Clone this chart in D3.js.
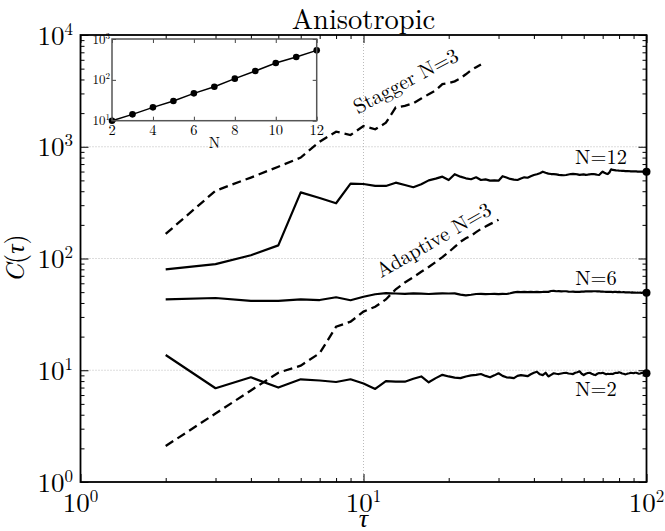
<!DOCTYPE html>
<html>
<head>
<meta charset="utf-8">
<script src="https://cdn.jsdelivr.net/npm/d3@7"></script>
<style>
  html, body { margin: 0; padding: 0; background: #fff; }
  svg { display: block; }
</style>
</head>
<body>
<svg id="chart" width="665" height="531"></svg>
<script>
// Lag values tau shared by the long solid runs
const tauGrid = [
  2, 3, 4, 5, 6, 7, 8, 9, 10, 11,
  12, 13, 14, 15, 16, 17, 18, 19, 20, 21,
  22, 23, 24, 25, 26, 27, 28, 29, 30, 31,
  32, 33, 34, 35, 36, 37, 38, 39, 40, 41,
  42, 43, 44, 45, 46, 47, 48, 49, 50, 51,
  52, 53, 54, 55, 56, 57, 58, 59, 60, 61,
  62, 63, 64, 65, 66, 67, 68, 69, 70, 71,
  72, 73, 74, 75, 76, 77, 78, 79, 80, 81,
  82, 83, 84, 85, 86, 87, 88, 89, 90, 91,
  92, 93, 94, 95, 96, 97, 98, 99, 100
];

// C(tau) for the anisotropic runs, N = 12, 6, 2
const n12Values = [
  80, 89, 107, 131, 391, 348, 312, 467, 464, 446,
  446, 477, 455, 434, 461, 500, 518, 540, 504, 568,
  540, 522, 512, 533, 504, 510, 497, 500, 497, 545,
  530, 515, 508, 504, 520, 533, 528, 545, 559, 568,
  580, 598, 585, 575, 570, 568, 566, 560, 558, 556,
  559, 565, 570, 572, 570, 566, 560, 563, 566, 560,
  563, 567, 570, 570, 566, 562, 559, 580, 598, 585,
  575, 570, 590, 628, 620, 618, 615, 613, 611, 610,
  608, 610, 606, 605, 607, 604, 603, 603, 603, 601,
  602, 600, 600, 598, 600, 599, 597, 598, 598
];
const n6Values = [
  43.1, 44.3, 41.7, 41.7, 43.1, 42.5, 45.0, 42.3, 45.5, 47.9,
  49.0, 48.6, 48.3, 48.8, 48.5, 48.1, 48.4, 48.8, 48.6, 48.8,
  47.5, 46.8, 47.4, 48.1, 48.3, 48.0, 48.1, 48.3, 48.0, 48.2,
  48.1, 48.9, 49.8, 50.2, 50.0, 50.3, 50.1, 50.2, 50.0, 50.3,
  50.1, 50.2, 50.4, 50.3, 51.2, 51.4, 50.9, 51.0, 50.8, 50.9,
  50.9, 50.6, 50.4, 50.5, 50.2, 50.4, 50.2, 50.5, 50.6, 50.8,
  50.7, 50.9, 50.8, 50.9, 50.9, 50.7, 50.9, 50.6, 50.5, 50.4,
  50.2, 50.3, 50.2, 50.3, 50.1, 50.2, 50.3, 50.1, 50.2, 50.0,
  49.9, 50.1, 49.8, 49.9, 49.7, 49.8, 49.6, 49.7, 49.5, 49.6,
  49.4, 49.5, 49.4, 49.5, 49.3, 49.5, 49.4, 49.3, 49.4
];
const n2Values = [
  13.7, 6.9, 8.65, 7.0, 8.3, 8.1, 7.85, 8.3, 7.6, 6.8,
  8.0, 7.9, 7.9, 8.4, 8.8, 7.8, 8.5, 9.1, 8.8, 8.6,
  8.5, 8.8, 9.0, 9.1, 9.25, 8.9, 8.65, 9.0, 9.4, 8.9,
  8.65, 8.6, 8.5, 8.9, 9.05, 8.95, 8.85, 9.2, 9.5, 9.7,
  9.2, 9.05, 9.5, 8.8, 9.1, 9.4, 9.3, 9.25, 9.35, 9.45,
  9.5, 9.35, 9.3, 9.25, 9.5, 9.6, 9.78, 9.3, 9.06, 9.3,
  9.45, 9.5, 9.3, 9.15, 9.06, 9.3, 9.45, 9.4, 9.5, 9.35,
  9.2, 9.3, 9.25, 9.3, 9.25, 9.4, 9.5, 9.45, 9.6, 9.5,
  9.35, 9.3, 9.2, 9.25, 9.35, 9.4, 9.5, 9.45, 9.4, 9.5,
  9.5, 9.4, 9.3, 9.35, 9.45, 9.5, 9.4, 9.35, 9.4
];

// Dashed comparison runs with N = 3
const staggerTau = [2, 3, 4, 5, 6, 7, 8, 9, 10, 11, 12, 13, 14, 15, 16, 17, 18, 19, 20, 21, 22, 23, 24, 25, 26];
const staggerValues = [166, 404, 530, 663, 800, 1110, 1365, 1274, 1530, 1432, 1640, 2250, 2320, 2450, 2700, 2950, 3200, 3640, 3720, 3850, 4100, 4450, 4850, 5150, 5450];
const adaptiveTau = [2, 3, 4, 5, 6, 7, 8, 9, 10, 11, 12, 13, 14, 15, 16, 17, 18, 19, 20, 21, 22, 23, 24, 25, 26, 27, 28, 29, 30];
const adaptiveValues = [2.1, 4.1, 6.6, 9.5, 11.0, 14.2, 24.5, 27.2, 33.5, 37, 43, 53, 61, 68, 76, 84, 93, 103, 114, 127, 141, 152, 160, 172, 184, 193, 203, 212, 222];

// Inset: growth of C with N
const insetN = [2, 3, 4, 5, 6, 7, 8, 9, 10, 11, 12];
const insetValues = [10, 14.3, 21.2, 30.3, 46.7, 68, 107, 164, 258, 362, 527];

// Tick positions and labels
const xMajor = [1, 10, 100];
const xMinor = [2, 3, 4, 5, 6, 7, 8, 9, 20, 30, 40, 50, 60, 70, 80, 90];
const yMajor = [1, 10, 100, 1000, 10000];
const yMinor = [2, 3, 4, 5, 6, 7, 8, 9, 20, 30, 40, 50, 60, 70, 80, 90,
                200, 300, 400, 500, 600, 700, 800, 900, 2000, 3000, 4000, 5000, 6000, 7000, 8000, 9000];
const xGrid = [10];
const yGrid = [10, 100, 1000];
const insetXTicks = [2, 4, 6, 8, 10, 12];
const insetYTicks = [10, 100, 1000];

const FONT = "Latin Modern Roman, Liberation Serif, serif";
const svg = d3.select("#chart");
const plot = { left: 80.5, right: 646.5, top: 35, bottom: 482 };

const x = d3.scaleLog().domain([1, 100]).range([plot.left, plot.right]);
const y = d3.scaleLog().domain([1, 10000]).range([plot.bottom, plot.top]);

function label(parent) {
  return parent.append("text").attr("font-family", FONT).attr("fill", "#000");
}

// dotted grid
svg.append("g").selectAll("line").data(yGrid).join("line")
  .attr("x1", plot.left).attr("x2", plot.right)
  .attr("y1", d => y(d)).attr("y2", d => y(d))
  .attr("stroke", "#aaa").attr("stroke-width", 0.8).attr("stroke-dasharray", "1,2");
svg.append("g").selectAll("line").data(xGrid).join("line")
  .attr("y1", plot.top).attr("y2", plot.bottom)
  .attr("x1", d => x(d)).attr("x2", d => x(d))
  .attr("stroke", "#aaa").attr("stroke-width", 0.8).attr("stroke-dasharray", "1,2");

// inward ticks on all four sides
function ticks(axis, tx, ty) {
  svg.append("g").attr("transform", `translate(${tx},${ty})`).call(axis)
    .call(g => {
      g.select(".domain").remove();
      g.selectAll("line").attr("stroke", "#000").attr("stroke-width", 1);
      g.selectAll("text").remove();
    });
}
ticks(d3.axisBottom(x).tickValues(xMajor).tickSize(-8), 0, plot.bottom);
ticks(d3.axisBottom(x).tickValues(xMinor).tickSize(-4), 0, plot.bottom);
ticks(d3.axisTop(x).tickValues(xMajor).tickSize(-8), 0, plot.top);
ticks(d3.axisTop(x).tickValues(xMinor).tickSize(-4), 0, plot.top);
ticks(d3.axisLeft(y).tickValues(yMajor).tickSize(-8), plot.left, 0);
ticks(d3.axisLeft(y).tickValues(yMinor).tickSize(-4), plot.left, 0);
ticks(d3.axisRight(y).tickValues(yMajor).tickSize(-8), plot.right, 0);
ticks(d3.axisRight(y).tickValues(yMinor).tickSize(-4), plot.right, 0);

// data lines
const line = d3.line().x(d => x(d[0])).y(d => y(d[1]));
const solidSeries = [n12Values, n6Values, n2Values];
solidSeries.forEach(vals => {
  const pts = tauGrid.map((t, i) => [t, vals[i]]);
  svg.append("path").datum(pts)
    .attr("d", line).attr("fill", "none")
    .attr("stroke", "#000").attr("stroke-width", 2.2)
    .attr("stroke-linejoin", "round");
  const last = pts[pts.length - 1];
  svg.append("circle").attr("cx", x(last[0])).attr("cy", y(last[1]))
    .attr("r", 4).attr("fill", "#000");
});
[[staggerTau, staggerValues], [adaptiveTau, adaptiveValues]].forEach(([ts, vals]) => {
  svg.append("path").datum(ts.map((t, i) => [t, vals[i]]))
    .attr("d", line).attr("fill", "none")
    .attr("stroke", "#000").attr("stroke-width", 2.3)
    .attr("stroke-dasharray", "9,5");
});

// frame
svg.append("rect")
  .attr("x", plot.left).attr("y", plot.top)
  .attr("width", plot.right - plot.left).attr("height", plot.bottom - plot.top)
  .attr("fill", "none").attr("stroke", "#000").attr("stroke-width", 1.8);

// powers-of-ten tick labels
function powLabel(sel, exp, size, supSize, rise) {
  sel.append("tspan").text("10").attr("font-size", size);
  sel.append("tspan").text(exp).attr("font-size", supSize).attr("dy", -rise);
}
yMajor.forEach(v => {
  const t = label(svg).attr("x", 73).attr("y", y(v) + 9.5)
    .attr("text-anchor", "end");
  powLabel(t, Math.round(Math.log10(v)), 27, 17, 10);
});
xMajor.forEach(v => {
  const t = label(svg).attr("x", x(v)).attr("y", 512)
    .attr("text-anchor", "middle");
  powLabel(t, Math.round(Math.log10(v)), 27, 17, 10);
});

// titles
label(svg).attr("x", (plot.left + plot.right) / 2).attr("y", 29.3)
  .attr("text-anchor", "middle").attr("font-size", 28.5).text("Anisotropic");
label(svg).attr("x", (plot.left + plot.right) / 2).attr("y", 527)
  .attr("text-anchor", "middle").attr("font-size", 26).attr("font-style", "italic").text("τ");
const yl = label(svg)
  .attr("transform", `translate(24,${(plot.top + plot.bottom) / 2}) rotate(-90)`)
  .attr("text-anchor", "middle").attr("font-size", 26);
yl.append("tspan").attr("font-style", "italic").text("C");
yl.append("tspan").text("(");
yl.append("tspan").attr("font-style", "italic").text("τ");
yl.append("tspan").text(")");

// curve annotations
const notes = [
  { text: "N=12", x: 601, y: 164, rot: 0 },
  { text: "N=6", x: 596, y: 285, rot: 0 },
  { text: "N=2", x: 596, y: 396, rot: 0 },
  { text: "Stagger N=3", x: 409, y: 87, rot: -28 },
  { text: "Adaptive N=3", x: 437, y: 246, rot: -30 }
];
notes.forEach(n => {
  label(svg)
    .attr("transform", `translate(${n.x},${n.y}) rotate(${n.rot})`)
    .attr("text-anchor", "middle").attr("font-size", 20.5).text(n.text);
});

// ---- inset ----
const inset = { left: 112, right: 316.7, top: 39, bottom: 120.7 };
const ix = d3.scaleLinear().domain([2, 12]).range([inset.left, inset.right]);
const iy = d3.scaleLog().domain([10, 1000]).range([inset.bottom, inset.top]);
const ig = svg.append("g");
ig.append("rect").attr("x", inset.left).attr("y", inset.top)
  .attr("width", inset.right - inset.left).attr("height", inset.bottom - inset.top)
  .attr("fill", "#fff");
function iticks(axis, tx, ty) {
  ig.append("g").attr("transform", `translate(${tx},${ty})`).call(axis)
    .call(g => {
      g.select(".domain").remove();
      g.selectAll("line").attr("stroke", "#444").attr("stroke-width", 1);
      g.selectAll("text").remove();
    });
}
iticks(d3.axisBottom(ix).tickValues(insetXTicks).tickSize(-4), 0, inset.bottom);
iticks(d3.axisTop(ix).tickValues(insetXTicks).tickSize(-4), 0, inset.top);
iticks(d3.axisLeft(iy).tickValues(insetYTicks).tickSize(-4), inset.left, 0);
iticks(d3.axisRight(iy).tickValues(insetYTicks).tickSize(-4), inset.right, 0);

const iline = d3.line().x(d => ix(d[0])).y(d => iy(d[1]));
const ipts = insetN.map((n, i) => [n, insetValues[i]]);
ig.append("path").datum(ipts).attr("d", iline)
  .attr("fill", "none").attr("stroke", "#000").attr("stroke-width", 1.5);
ig.selectAll("circle").data(ipts).join("circle")
  .attr("cx", d => ix(d[0])).attr("cy", d => iy(d[1])).attr("r", 3.3).attr("fill", "#000");

ig.append("rect").attr("x", inset.left).attr("y", inset.top)
  .attr("width", inset.right - inset.left).attr("height", inset.bottom - inset.top)
  .attr("fill", "none").attr("stroke", "#555").attr("stroke-width", 1.5);

insetXTicks.forEach(v => {
  label(ig).attr("x", ix(v)).attr("y", 135)
    .attr("text-anchor", "middle").attr("font-size", 14.5).text(v);
});
insetYTicks.forEach(v => {
  const t = label(ig).attr("x", 110).attr("y", iy(v) + 4.5)
    .attr("text-anchor", "end");
  powLabel(t, Math.round(Math.log10(v)), 13, 9, 5);
});
label(ig).attr("x", (inset.left + inset.right) / 2).attr("y", 148)
  .attr("text-anchor", "middle").attr("font-size", 15).text("N");
</script>
</body>
</html>
